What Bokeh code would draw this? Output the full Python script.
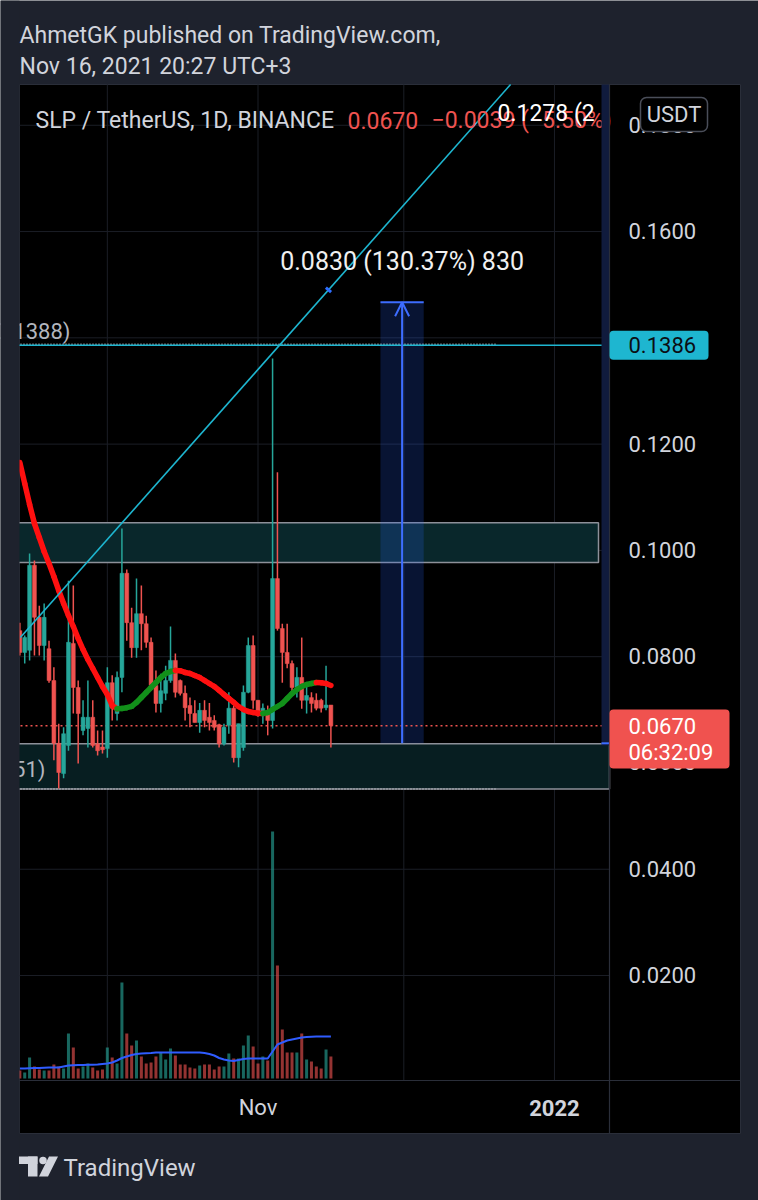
from bokeh.plotting import figure
from bokeh.models import Range1d, Arrow, OpenHead
from bokeh.core.properties import value
from bokeh.embed import file_html
from bokeh.resources import INLINE

# ---------------- data : SLP / TetherUS daily candles (day offset from 2021-11-01) ----------------
days = list(range(-49, 16))
opens = [0.0849, 0.0808, 0.0812, 0.0972, 0.0874, 0.0821, 0.0815, 0.0755, 0.0637, 0.0580,
         0.0633, 0.0825, 0.0742, 0.0661, 0.0665, 0.0686, 0.0636, 0.0630, 0.0627, 0.0751,
         0.0693, 0.0761, 0.0957, 0.0864, 0.0817, 0.0881, 0.0862, 0.0827, 0.0746, 0.0712,
         0.0731, 0.0755, 0.0793, 0.0755, 0.0731, 0.0708, 0.0693, 0.0676, 0.0699, 0.0686,
         0.0680, 0.0672, 0.0636, 0.0671, 0.0703, 0.0610, 0.0629, 0.0733, 0.0821, 0.0718,
         0.0689, 0.0693, 0.0680, 0.0947, 0.0853, 0.0808, 0.0787, 0.0742, 0.0761, 0.0718,
         0.0723, 0.0718, 0.0718, 0.0704, 0.0709]
highs = [0.0864, 0.0840, 0.0994, 0.0981, 0.0896, 0.0900, 0.0830, 0.0780, 0.0674, 0.0667,
         0.0943, 0.0934, 0.0755, 0.0718, 0.0755, 0.0718, 0.0661, 0.0661, 0.0780, 0.0765,
         0.0772, 0.1041, 0.0964, 0.0892, 0.0947, 0.0934, 0.0877, 0.0836, 0.0774, 0.0768,
         0.0783, 0.0857, 0.0806, 0.0757, 0.0746, 0.0723, 0.0718, 0.0713, 0.0718, 0.0713,
         0.0690, 0.0674, 0.0674, 0.0733, 0.0708, 0.0674, 0.0746, 0.0836, 0.0840, 0.0718,
         0.0712, 0.0708, 0.1361, 0.1147, 0.0862, 0.0862, 0.0793, 0.0780, 0.0836, 0.0750,
         0.0733, 0.0731, 0.0721, 0.0783, 0.0709]
lows = [0.0802, 0.0787, 0.0793, 0.0802, 0.0802, 0.0793, 0.0751, 0.0605, 0.0552, 0.0571,
        0.0623, 0.0693, 0.0599, 0.0652, 0.0629, 0.0629, 0.0614, 0.0618, 0.0610, 0.0680,
        0.0680, 0.0733, 0.0830, 0.0798, 0.0798, 0.0812, 0.0817, 0.0736, 0.0695, 0.0695,
        0.0718, 0.0751, 0.0723, 0.0727, 0.0680, 0.0667, 0.0676, 0.0657, 0.0667, 0.0661,
        0.0661, 0.0629, 0.0633, 0.0655, 0.0601, 0.0592, 0.0623, 0.0731, 0.0702, 0.0687,
        0.0674, 0.0652, 0.0665, 0.0849, 0.0751, 0.0778, 0.0731, 0.0723, 0.0702, 0.0693,
        0.0695, 0.0699, 0.0695, 0.0699, 0.0629]
closes = [0.0808, 0.0836, 0.0972, 0.0874, 0.0821, 0.0874, 0.0755, 0.0637, 0.0582, 0.0655,
          0.0827, 0.0742, 0.0693, 0.0686, 0.0686, 0.0633, 0.0623, 0.0625, 0.0751, 0.0703,
          0.0761, 0.0957, 0.0864, 0.0817, 0.0881, 0.0862, 0.0827, 0.0746, 0.0712, 0.0736,
          0.0755, 0.0793, 0.0733, 0.0731, 0.0704, 0.0693, 0.0676, 0.0699, 0.0680, 0.0676,
          0.0667, 0.0636, 0.0667, 0.0703, 0.0610, 0.0674, 0.0733, 0.0821, 0.0718, 0.0689,
          0.0703, 0.0680, 0.0947, 0.0853, 0.0808, 0.0787, 0.0742, 0.0761, 0.0718, 0.0727,
          0.0712, 0.0703, 0.0703, 0.0709, 0.0670]
volumes = [32, 24, 84, 48, 36, 32, 32, 56, 48, 40,
           180, 124, 40, 48, 60, 44, 32, 36, 124, 84,
           60, 384, 180, 132, 152, 88, 60, 64, 88, 104,
           76, 120, 92, 56, 56, 44, 40, 52, 56, 56,
           36, 48, 48, 100, 80, 80, 132, 172, 128, 60,
           88, 72, 988, 452, 196, 104, 104, 104, 180, 76,
           68, 48, 40, 116, 88]          # millions SLP
volume_ma = [40, 40, 41, 42, 42, 43, 44, 44, 44, 48,
             52, 53, 54, 54, 55, 55, 56, 58, 60, 64,
             72, 82, 88, 94, 98, 100, 101, 102, 104, 104,
             104, 104, 104, 104, 104, 104, 104, 104, 102, 98,
             92, 82, 76, 72, 70, 74, 78, 80, 80, 80,
             80, 80, 108, 136, 144, 152, 156, 160, 164, 166,
             167, 168, 168, 168, 168]
price_ma = [0.11654, 0.11259, 0.10864, 0.10506, 0.10243, 0.09979, 0.09754, 0.09509, 0.09245, 0.09001,
            0.08775, 0.08568, 0.08342, 0.08135, 0.07947, 0.07778, 0.07608, 0.07439, 0.07288, 0.07080,
            0.07020, 0.07025, 0.07040, 0.07064, 0.07138, 0.07232, 0.07326, 0.07420, 0.07514, 0.07608,
            0.07684, 0.07721, 0.07740, 0.07735, 0.07703, 0.07684, 0.07646, 0.07608, 0.07552, 0.07495,
            0.07439, 0.07364, 0.07288, 0.07213, 0.07138, 0.07062, 0.07006, 0.06968, 0.06950, 0.06935,
            0.06930, 0.06950, 0.07006, 0.07062, 0.07119, 0.07213, 0.07307, 0.07382, 0.07439, 0.07476,
            0.07495, 0.07514, 0.07510, 0.07495, 0.07458]

price_ticks = [0.02, 0.04, 0.06, 0.08, 0.10, 0.12, 0.14, 0.16, 0.18]
price_tick_labels = ["0.0200", "0.0400", "0.0600", "0.0800", "0.1000", "0.1200", "0.1400", "0.1600", "0.1800"]
time_ticks = [0, 61]
time_tick_labels = ["Nov", "2022"]
month_starts = [-31, 0, 30, 61]

resistance_zone = [0.0977, 0.1052]
support_zone = [0.0551, 0.0636]
level_price = 0.1386
dotted_levels = [0.1388, 0.0551]
dotted_labels = ["(0.1388)", "(0.0551)"]
last_price = 0.0670
last_change = "\u22120.0039 (\u22125.50%)"
countdown = "06:32:09"
measure_days = [25.2, 34.1]
measure_prices = [0.0637, 0.1467]
measure_text = "0.0830 (130.37%) 830"
trend_days = [-48.9, 4.6]
trend_prices = [0.0836, 0.1388]
trend_label = "0.1278 (2"
symbol_title = "SLP / TetherUS, 1D, BINANCE"
header_lines = ["AhmetGK published on TradingView.com,", "Nov 16, 2021 20:27 UTC+3"]

# ---------------- layout helpers (page pixels -> data units) ----------------
W, H = 758, 1200
X0_PX, PX_PER_DAY = 257.5, 4.86
Y0_PX, PX_PER_PRICE = 1081.3, 5314.0
VOL_BASE_PX, VOL_PER_PX = 1078.0, 4.0
TS = -8  # text baseline correction (px)


def dx(px):
    return (px - X0_PX) / PX_PER_DAY


def dy(py):
    return (Y0_PX - py) / PX_PER_PRICE


NAVY = "#1e222d"
UP, DOWN = "#26a69a", "#ef5350"
TXT = "#d1d4dc"
CYAN = "#1eb6d0"
BLUE = "#3d6dff"
SEP = "#2a2e39"
FONT = value("Roboto")

p = figure(width=W, height=H, x_range=Range1d(dx(0), dx(W)), y_range=Range1d(dy(H), dy(0)),
           output_backend="svg", toolbar_location=None, x_axis_location=None, y_axis_location=None,
           min_border=0, outline_line_color=None, background_fill_color=NAVY, border_fill_color=NAVY,
           styles={"position": "absolute", "left": "0px", "top": "0px"})
p.xgrid.visible = False
p.ygrid.visible = False
p.extra_y_ranges = {"vol": Range1d(-(H - VOL_BASE_PX) * VOL_PER_PX, VOL_BASE_PX * VOL_PER_PX)}

# chart pane
p.quad(left=dx(19), right=dx(740), top=dy(84), bottom=dy(1133), fill_color="black", line_color=SEP, line_width=1)

# grid
p.segment(x0=dx(19), x1=dx(609), y0=price_ticks, y1=price_ticks, line_color="#1b1e26", line_width=1)
p.segment(x0=month_starts, x1=month_starts, y0=dy(84), y1=dy(1080), line_color="#1b1e26", line_width=1)

# zones
p.quad(left=dx(5), right=dx(598), bottom=resistance_zone[0], top=resistance_zone[1],
       fill_color="#09272b", line_color="#8d9099", line_width=1.5)
p.quad(left=dx(5), right=dx(609), bottom=support_zone[0], top=support_zone[1],
       fill_color="#071e21", line_color="#8d9099", line_width=1.5)

# measure box fill
p.quad(left=measure_days[0], right=measure_days[1], bottom=measure_prices[0], top=measure_prices[1],
       fill_color="#2962ff", fill_alpha=0.2, line_color=None)

# volume
colors = [UP if c >= o else DOWN for o, c in zip(opens, closes)]
p.vbar(x=days, width=0.62, top=volumes, bottom=0, fill_color=colors, fill_alpha=0.62,
       line_color=None, y_range_name="vol")
p.line(x=days, y=volume_ma, line_color="#2f5cff", line_width=2, y_range_name="vol")

# horizontal levels
p.segment(x0=dx(5), x1=dx(497), y0=dotted_levels, y1=dotted_levels, line_color="#c0c3cb",
          line_width=1.5, line_dash="1 2")
p.text(x=[dx(70), dx(45)], y=dotted_levels, text=dotted_labels, y_offset=[-5 + TS, -11 + TS],
       text_font=FONT, text_font_size="22px", text_color="#b2b5be", text_align="right",
       text_baseline="alphabetic")
p.segment(x0=dx(5), x1=dx(609), y0=last_price, y1=last_price, line_color=DOWN, line_width=1.5, line_dash="2 3")

# candles
p.segment(x0=days, x1=days, y0=lows, y1=highs, line_color=colors, line_width=1.5)
p.vbar(x=days, width=0.8, top=[max(o, c) for o, c in zip(opens, closes)],
       bottom=[min(o, c) for o, c in zip(opens, closes)], fill_color=colors, line_color=colors, line_width=0.5)

# moving average coloured by slope
ma_cols = ["#12901a" if b >= a else "#ff1010" for a, b in zip(price_ma[:-1], price_ma[1:])]
p.segment(x0=days[:-1], x1=days[1:], y0=price_ma[:-1], y1=price_ma[1:], line_color=ma_cols,
          line_width=5.5, line_cap="round")

# trend line, clipped at the pane top
slope = (trend_prices[1] - trend_prices[0]) / (trend_days[1] - trend_days[0])
top_price = dy(84)
end_day = trend_days[0] + (top_price - trend_prices[0]) / slope
p.segment(x0=trend_days[0], y0=trend_prices[0], x1=end_day, y1=top_price, line_color=CYAN, line_width=1.6)
mark_day = dx(328)
p.scatter(x=[mark_day], y=[trend_prices[0] + slope * (mark_day - trend_days[0])], marker="dash",
          size=7, angle=-0.73, line_color="#2e6dff", line_width=3)
p.segment(x0=dx(5), x1=dx(609), y0=level_price, y1=level_price, line_color=CYAN, line_width=1.6)

# measure tool
mid = (measure_days[0] + measure_days[1]) / 2
p.segment(x0=measure_days[0], x1=measure_days[1], y0=measure_prices[1], y1=measure_prices[1],
          line_color=BLUE, line_width=2)
p.add_layout(Arrow(x_start=mid, y_start=measure_prices[0], x_end=mid, y_end=measure_prices[1],
                   line_color=BLUE, line_width=2,
                   end=OpenHead(size=14, line_color=BLUE, line_width=2)))
p.text(x=[mid], y=[measure_prices[1]], text=[measure_text], y_offset=-33 + TS, text_font=FONT,
       text_font_size="25px", text_color="#f0f0f0", text_align="center", text_baseline="alphabetic")

# legend row
p.text(x=[dx(35)], y=[dy(128)], text=[symbol_title], y_offset=TS, text_font=FONT, text_font_size="23px",
       text_color=TXT, text_baseline="alphabetic")
p.text(x=[dx(347), dx(431)], y=[dy(128), dy(128)], text=[f"{last_price:.4f}", last_change], y_offset=TS,
       text_font=FONT, text_font_size="23px", text_color=DOWN, text_baseline="alphabetic")
p.text(x=[dx(497)], y=[dy(121)], text=[trend_label], y_offset=TS, text_font=FONT, text_font_size="23px",
       text_color="#ffffff", text_baseline="alphabetic")

# clip left overflow
p.quad(left=dx(0), right=dx(19), top=dy(0), bottom=dy(H), fill_color=NAVY, line_color=None)

# price scale (labels hidden under the level badge are skipped, as TradingView does)
p.quad(left=dx(601), right=dx(608.5), top=dy(84), bottom=dy(745), fill_color="#101b3d", line_color=None)
p.segment(x0=dx(601), x1=dx(609), y0=measure_prices[0], y1=measure_prices[0], line_color=BLUE, line_width=2)
p.segment(x0=dx(609), x1=dx(609), y0=dy(84), y1=dy(1133), line_color=SEP, line_width=1.2)
p.segment(x0=dx(19), x1=dx(740), y0=dy(1080), y1=dy(1080), line_color=SEP, line_width=1.2)
shown = [(t, s) for t, s in zip(price_ticks, price_tick_labels) if abs(t - level_price) * PX_PER_PRICE > 20]
p.text(x=dx(628), y=[t for t, _ in shown], text=[s for _, s in shown], y_offset=7.5 + TS, text_font=FONT,
       text_font_size="22px", text_color=TXT, text_baseline="alphabetic")

# badges
p.quad(left=dx(609), right=dx(708), top=level_price + 14.5 / PX_PER_PRICE, bottom=level_price - 14.5 / PX_PER_PRICE,
       fill_color=CYAN, line_color=None, border_radius=4)
p.text(x=[dx(628)], y=[level_price], text=[f"{level_price:.4f}"], y_offset=7.5 + TS, text_font=FONT,
       text_font_size="22px", text_color="#0b0e14", text_baseline="alphabetic")
p.quad(left=dx(609), right=dx(729), top=dy(709), bottom=dy(768), fill_color="#f0524f", line_color=None,
       border_radius=4)
p.text(x=[dx(628), dx(628)], y=[dy(733.5), dy(759.5)], text=[f"{last_price:.4f}", countdown], y_offset=TS,
       text_font=FONT, text_font_size="22px", text_color="#ffffff", text_baseline="alphabetic")

# currency button
p.quad(left=dx(640), right=dx(707), top=dy(97), bottom=dy(131), fill_color="black", line_color="#4a4e59",
       line_width=1.5, border_radius=6)
p.text(x=[dx(673.5)], y=[dy(121.7)], text=["USDT"], y_offset=TS, text_font=FONT, text_font_size="22px",
       text_color=TXT, text_align="center", text_baseline="alphabetic")

# time scale
p.text(x=time_ticks[:1], y=dy(1115), text=time_tick_labels[:1], y_offset=TS, text_font=FONT,
       text_font_size="22px", text_color=TXT, text_align="center", text_baseline="alphabetic")
p.text(x=time_ticks[1:], y=dy(1115), text=time_tick_labels[1:], y_offset=TS, text_font=FONT,
       text_font_size="22px", text_font_style="bold", text_color=TXT, text_align="center",
       text_baseline="alphabetic")

# header
p.text(x=[dx(19), dx(19)], y=[dy(42.7), dy(74.3)], text=header_lines, y_offset=TS, text_font=FONT,
       text_font_size="23px", text_color=TXT, text_baseline="alphabetic")

# footer logo
p.quad(left=[dx(18.5), dx(27.5)], right=[dx(37), dx(37)], top=[dy(1156), dy(1156)],
       bottom=[dy(1163.5), dy(1176)], fill_color=TXT, line_color=None)
p.scatter(x=[dx(42.5)], y=[dy(1160)], size=7.5, fill_color=TXT, line_color=None)
p.patch(x=[dx(38.5), dx(48.5), dx(57.5), dx(47.5)], y=[dy(1176), dy(1156), dy(1156), dy(1176)],
        fill_color=TXT, line_color=None)
p.text(x=[dx(63)], y=[dy(1175)], text=["TradingView"], y_offset=TS, text_font=FONT, text_font_size="24px",
       text_color=TXT, text_baseline="alphabetic")

open("out.html", "w").write(file_html(p, INLINE))
